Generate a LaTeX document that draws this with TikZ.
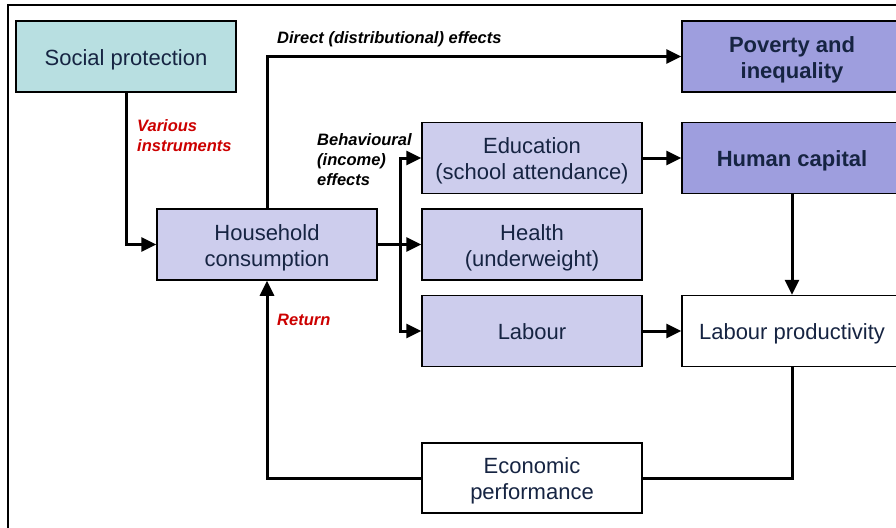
\documentclass[tikz,border=0pt]{standalone}
\usepackage{fontspec}
\setmainfont{Liberation Sans}
\usepackage{tikz}
\usetikzlibrary{arrows.meta}
\definecolor{tealish}{RGB}{184,223,225}
\definecolor{lavender}{RGB}{205,205,237}
\definecolor{violetish}{RGB}{158,158,222}
\definecolor{navy}{RGB}{22,36,66}
\definecolor{redlabel}{RGB}{204,0,0}
\newcommand{\boxfont}{\fontsize{22}{26}\selectfont}
\newcommand{\lblfont}{\fontsize{16.5}{20}\selectfont\bfseries\itshape}
\tikzstyle{tealbox} = [rectangle, minimum width=220pt, minimum height=71pt, draw=black, line width=1.5pt, fill=tealish, text=navy, align=center, font=\boxfont]
\tikzstyle{lightbox} = [rectangle, minimum width=220pt, minimum height=71pt, draw=black, line width=1.5pt, fill=lavender, text=navy, align=center, font=\boxfont]
\tikzstyle{darkbox} = [rectangle, minimum width=220pt, minimum height=71pt, draw=black, line width=1.5pt, fill=violetish, text=navy, align=center, font=\boxfont\bfseries]
\tikzstyle{whitebox} = [rectangle, minimum width=220pt, minimum height=71pt, draw=black, line width=1.5pt, fill=white, text=navy, align=center, font=\boxfont]
\tikzstyle{oneline} = [text height=20pt, text depth=3pt]
\tikzstyle{twoline} = [text height=46pt, text depth=3pt]
\tikzstyle{lbl} = [inner sep=0pt, align=left, font=\lblfont, text=black]
\tikzstyle{redlbl} = [inner sep=0pt, align=left, font=\lblfont, text=redlabel]
\tikzstyle{arrow} = [line width=3pt, -{Triangle[length=15pt,width=14pt]}]
\tikzstyle{line} = [line width=3pt]

\begin{document}
\begin{tikzpicture}
\useasboundingbox (0pt,0pt) rectangle (896pt,-527pt);
\clip (0pt,0pt) rectangle (896pt,-527pt);
\draw[line width=2pt] (8pt,-5pt) rectangle (1000pt,-700pt);
\node (hh) [lightbox, twoline] at (267pt,-244.5pt) {Household\\consumption};
\node (sp) [tealbox, oneline, node distance=188pt, above of=hh, xshift=-141pt] {Social protection};
\node (health) [lightbox, twoline, node distance=265pt, right of=hh] {Health\\(underweight)};
\node (edu) [lightbox, twoline, node distance=86.5pt, above of=health] {Education\\(school attendance)};
\node (labour) [lightbox, oneline, node distance=86.5pt, below of=health] {Labour};
\node (hc) [darkbox, oneline, node distance=260pt, right of=edu] {Human capital};
\node (pov) [darkbox, twoline, node distance=101.5pt, above of=hc] {Poverty and\\inequality};
\node (lp) [whitebox, oneline, node distance=260pt, right of=labour] {Labour productivity};
\node (econ) [whitebox, twoline, node distance=147pt, below of=labour, minimum height=70pt] {Economic\\performance};
\coordinate (split) at ([xshift=23pt]hh.east);
\draw[arrow] (sp.south) |- (hh.west);
\draw[arrow] (hh.north) |- (pov.west);
\draw[arrow] (hh.east) -- (health.west);
\draw[arrow] (split) |- (edu.west);
\draw[arrow] (split) |- (labour.west);
\draw[arrow] (edu.east) -- (hc.west);
\draw[arrow] (labour.east) -- (lp.west);
\draw[arrow] (hc.south) -- (lp.north);
\draw[line] (lp.south) |- (econ.east);
\draw[arrow] (econ.west) -| (hh.south);
\node (direct) [lbl, anchor=west] at (277pt,-39pt) {Direct (distributional) effects};
\node (various) [redlbl, anchor=north west] at (137pt,-119pt) {Various\\instruments};
\node (behav) [lbl, anchor=north west] at (317pt,-133pt) {Behavioural\\(income)\\effects};
\node (return) [redlbl, anchor=west] at (277pt,-320pt) {Return};
\end{tikzpicture}
\end{document}
